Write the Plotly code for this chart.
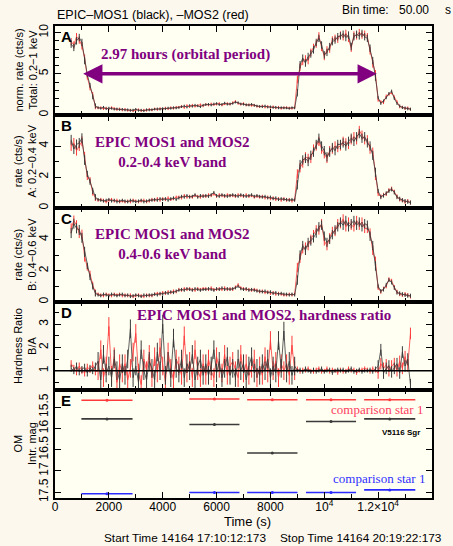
import plotly.graph_objects as go
from plotly.subplots import make_subplots

# ---------------- data ----------------
time_s = list(range(600, 13300, 100))  # 100 s bin centres

a_black = [8.6, 8.2, 9.0, 9.4, 8.8, 6.6, 4.9, 3.6, 2.2, 1.1,
           0.9, 0.8, 0.95, 0.75, 0.85, 0.8, 0.7, 0.75, 0.65, 0.7,
           0.6, 0.65, 0.55, 0.6, 0.7, 0.55, 0.6, 0.5, 0.65, 0.6,
           0.65, 0.7, 0.75, 0.7, 0.8, 0.75, 0.85, 0.8, 0.9, 0.85,
           0.9, 1.0, 1.1, 0.95, 1.15, 1.05, 1.2, 1.1, 1.0, 1.2,
           1.25, 1.3, 1.2, 1.35, 1.4, 1.25, 1.3, 1.45, 1.3, 1.35,
           1.4, 1.55, 1.5, 1.35, 1.3, 1.25, 1.2, 1.3, 1.15, 1.1,
           1.05, 1.0, 1.1, 0.95, 1.0, 0.9, 0.95, 0.85, 0.9, 0.85,
           0.85, 0.8, 0.9, 0.85, 2.7, 6.1, 6.9, 6.3, 7.1, 7.4,
           7.9, 8.8, 9.3, 8.5, 7.3, 7.6, 8.3, 8.9, 9.1, 9.5,
           9.6, 9.8, 9.4, 9.7, 8.3, 9.5, 9.8, 9.6, 9.9, 9.5,
           9.3, 8.1, 6.6, 4.6, 2.1, 1.4, 1.7, 2.1, 2.6, 2.9,
           2.0, 1.4, 1.1, 0.9, 0.85, 0.75, 0.7]
a_red = [8.9, 8.5, 9.5, 9.1, 8.4, 6.9, 4.6, 3.3, 2.5, 1.0,
         0.85, 0.9, 0.75, 0.85, 0.7, 0.9, 0.8, 0.65, 0.75, 0.6,
         0.7, 0.55, 0.6, 0.5, 0.6, 0.65, 0.5, 0.6, 0.55, 0.7,
         0.6, 0.75, 0.65, 0.8, 0.7, 0.85, 0.75, 0.9, 0.8, 0.95,
         0.95, 1.05, 0.9, 1.15, 1.0, 1.2, 1.05, 1.15, 1.25, 1.1,
         1.3, 1.2, 1.35, 1.25, 1.3, 1.4, 1.2, 1.35, 1.4, 1.3,
         1.5, 1.65, 1.4, 1.3, 1.4, 1.2, 1.25, 1.15, 1.2, 1.05,
         1.0, 1.1, 0.95, 1.05, 0.9, 1.0, 0.85, 0.95, 0.8, 0.9,
         0.9, 0.85, 0.8, 0.9, 4.3, 5.8, 6.5, 6.8, 6.6, 7.6,
         8.2, 8.6, 9.6, 8.2, 7.1, 7.9, 8.0, 9.1, 9.3, 9.2,
         9.7, 9.5, 9.9, 9.3, 8.1, 9.7, 9.6, 10.0, 9.7, 9.8,
         9.5, 7.8, 6.2, 5.0, 1.8, 1.6, 1.5, 2.3, 2.5, 2.7,
         2.2, 1.6, 1.0, 0.95, 0.8, 0.85, 0.7]

b_black = [4.4, 3.8, 4.1, 4.2, 4.5, 3.1, 2.2, 1.7, 1.1, 0.7,
           0.55, 0.5, 0.45, 0.5, 0.55, 0.45, 0.5, 0.4, 0.45, 0.5,
           0.45, 0.4, 0.5, 0.45, 0.4, 0.45, 0.5, 0.4, 0.45, 0.5,
           0.5, 0.55, 0.5, 0.6, 0.55, 0.6, 0.5, 0.6, 0.65, 0.55,
           0.65, 0.75, 0.7, 0.8, 0.7, 0.75, 0.85, 0.7, 0.8, 0.75,
           0.8, 0.75, 0.85, 1.0, 0.8, 0.75, 0.85, 0.8, 0.75, 0.8,
           0.85, 0.8, 0.75, 0.85, 0.8, 0.75, 0.8, 0.85, 0.75, 0.8,
           0.75, 0.7, 0.75, 0.65, 0.7, 0.6, 0.65, 0.55, 0.6, 0.55,
           0.55, 0.5, 0.55, 0.5, 1.5, 2.8, 3.1, 3.2, 3.0, 3.4,
           3.6, 4.1, 4.5, 4.0, 3.7, 3.3, 3.6, 3.9, 3.7, 4.1,
           4.1, 4.2, 4.0, 4.3, 4.5, 4.3, 4.6, 4.8, 4.5, 4.6,
           4.2, 4.0, 3.4, 2.3, 1.1, 0.7, 0.8, 0.95, 1.1, 1.2,
           1.0, 0.7, 0.6, 0.5, 0.45, 0.4, 0.35]
b_red = [4.0, 4.2, 3.7, 4.0, 4.3, 3.3, 2.0, 1.8, 1.0, 0.65,
         0.5, 0.55, 0.5, 0.4, 0.5, 0.55, 0.45, 0.5, 0.4, 0.45,
         0.4, 0.45, 0.4, 0.5, 0.45, 0.4, 0.45, 0.5, 0.4, 0.45,
         0.55, 0.5, 0.6, 0.5, 0.6, 0.55, 0.65, 0.55, 0.6, 0.7,
         0.7, 0.65, 0.8, 0.7, 0.75, 0.7, 0.8, 0.75, 0.7, 0.8,
         0.75, 0.85, 0.8, 0.9, 0.75, 0.85, 0.8, 0.75, 0.85, 0.8,
         0.8, 0.75, 0.85, 0.8, 0.75, 0.85, 0.75, 0.8, 0.7, 0.75,
         0.7, 0.75, 0.65, 0.7, 0.6, 0.65, 0.55, 0.6, 0.5, 0.6,
         0.5, 0.55, 0.45, 0.55, 2.2, 2.6, 2.9, 3.3, 3.2, 3.2,
         3.8, 4.0, 4.3, 3.8, 3.5, 3.2, 3.7, 3.8, 4.0, 3.9,
         4.0, 4.3, 4.2, 4.1, 4.4, 4.6, 4.4, 5.0, 4.7, 4.4,
         4.4, 3.8, 3.6, 2.1, 0.9, 0.75, 0.85, 0.9, 1.15, 1.25,
         1.05, 0.75, 0.55, 0.5, 0.4, 0.45, 0.35]

c_black = [4.4, 5.0, 4.7, 4.6, 4.1, 3.2, 2.3, 1.6, 1.0, 0.55,
           0.45, 0.4, 0.5, 0.45, 0.4, 0.5, 0.45, 0.4, 0.45, 0.5,
           0.4, 0.45, 0.35, 0.4, 0.45, 0.4, 0.35, 0.45, 0.4, 0.45,
           0.45, 0.5, 0.45, 0.55, 0.5, 0.6, 0.55, 0.65, 0.6, 0.7,
           0.75, 0.8, 0.75, 0.85, 0.8, 0.75, 0.85, 0.8, 0.75, 0.8,
           0.8, 0.85, 0.8, 0.75, 0.85, 0.8, 0.9, 0.8, 0.85, 0.8,
           0.85, 0.9, 1.0, 0.85, 0.8, 0.85, 0.75, 0.8, 0.75, 0.7,
           0.7, 0.65, 0.7, 0.6, 0.65, 0.55, 0.6, 0.5, 0.55, 0.5,
           0.5, 0.45, 0.5, 0.45, 1.4, 3.0, 3.6, 3.3, 3.8, 3.9,
           4.1, 4.4, 4.8, 4.9, 4.2, 3.8, 4.0, 4.3, 4.6, 4.8,
           5.1, 4.9, 5.2, 4.8, 5.0, 5.2, 4.9, 5.1, 4.8, 5.0,
           4.9, 4.2, 3.6, 2.3, 1.0, 0.7, 0.8, 1.1, 1.4, 1.25,
           0.9, 0.6, 0.55, 0.5, 0.45, 0.4, 0.4]
c_red = [4.7, 5.2, 4.9, 4.4, 4.3, 2.9, 2.2, 1.8, 1.1, 0.6,
         0.5, 0.45, 0.4, 0.5, 0.45, 0.4, 0.5, 0.45, 0.5, 0.4,
         0.45, 0.4, 0.45, 0.35, 0.4, 0.45, 0.4, 0.35, 0.45, 0.4,
         0.4, 0.5, 0.55, 0.5, 0.6, 0.55, 0.65, 0.6, 0.7, 0.65,
         0.8, 0.75, 0.85, 0.8, 0.85, 0.8, 0.75, 0.85, 0.8, 0.85,
         0.85, 0.8, 0.9, 0.8, 0.8, 0.85, 0.8, 0.9, 0.8, 0.85,
         0.8, 0.95, 1.1, 0.9, 0.85, 0.8, 0.8, 0.75, 0.8, 0.75,
         0.65, 0.7, 0.6, 0.65, 0.55, 0.6, 0.5, 0.55, 0.5, 0.45,
         0.45, 0.5, 0.45, 0.5, 2.2, 2.8, 3.4, 3.5, 3.6, 4.0,
         4.3, 4.6, 4.6, 5.0, 3.9, 3.6, 4.1, 4.5, 4.5, 5.0,
         5.0, 5.3, 4.8, 5.1, 4.9, 4.8, 5.2, 4.9, 5.1, 4.7,
         4.7, 4.4, 3.3, 2.6, 0.9, 0.65, 0.85, 1.0, 1.45, 1.35,
         0.95, 0.65, 0.5, 0.45, 0.5, 0.45, 0.35]

d_black = [1.1, 1.0, 1.2, 0.95, 1.05, 1.15, 0.9, 1.1, 1.0, 1.2,
           1.4, 0.6, 1.7, 0.9, 1.2, 0.7, 1.5, 1.0, 0.6, 1.3,
           0.8, 1.5, 2.8, 0.7, 1.2, 0.5, 1.9, 1.0, 0.6, 1.4,
           1.1, 0.6, 1.8, 1.0, 3.0, 0.8, 1.4, 0.7, 2.4, 1.1,
           0.9, 1.5, 0.7, 1.3, 1.0, 1.7, 0.6, 1.2, 1.5, 0.8,
           1.3, 0.8, 1.2, 1.9, 0.9, 1.4, 0.7, 1.1, 1.6, 0.8,
           1.1, 0.7, 1.5, 1.0, 1.3, 0.6, 1.2, 1.6, 0.9, 1.1,
           0.8, 1.3, 1.0, 1.5, 0.7, 1.2, 0.9, 2.3, 1.1, 2.7,
           0.9, 1.4, 0.8, 1.2, 1.0, 1.05, 0.95, 1.1, 1.0, 0.95,
           1.05, 0.95, 1.0, 1.1, 0.95, 1.0, 1.05, 0.9, 1.0, 1.05,
           1.0, 1.05, 0.95, 1.0, 1.1, 0.95, 1.0, 1.05, 0.95, 1.0,
           1.0, 1.05, 0.95, 1.1, 1.2, 1.9, 0.9, 1.1, 1.2, 0.95,
           1.1, 1.3, 0.9, 1.8, 1.2, 1.5, 0.4]
d_red = [1.3, 1.1, 0.95, 1.2, 1.0, 0.9, 1.15, 1.05, 1.25, 0.95,
         1.0, 1.9, 0.7, 1.2, 2.9, 0.8, 1.6, 0.5, 1.3, 0.9,
         1.3, 0.6, 1.1, 1.8, 2.6, 0.9, 0.4, 1.5, 1.0, 1.7,
         0.7, 1.6, 0.9, 2.0, 1.2, 0.5, 1.8, 1.1, 0.6, 1.5,
         1.2, 0.8, 2.5, 0.9, 1.4, 0.7, 1.9, 1.0, 0.7, 1.3,
         0.8, 1.5, 1.0, 0.7, 1.6, 1.1, 0.9, 1.7, 0.8, 1.2,
         1.4, 1.0, 0.7, 1.7, 0.9, 1.3, 0.8, 1.1, 1.5, 0.7,
         1.2, 0.8, 1.6, 0.9, 2.3, 1.0, 1.4, 0.7, 1.3, 1.0,
         1.3, 0.8, 2.1, 1.0, 1.1, 0.95, 1.05, 1.0, 1.1, 1.0,
         0.95, 1.05, 1.1, 0.95, 1.0, 1.1, 0.95, 1.05, 1.0, 0.9,
         1.05, 0.95, 1.0, 1.1, 1.0, 1.05, 0.9, 1.0, 1.05, 1.1,
         1.05, 0.95, 1.1, 1.0, 0.9, 1.3, 1.1, 1.25, 1.0, 1.2,
         1.3, 1.0, 1.4, 1.1, 1.6, 1.2, 2.6]

# 1-sigma error bars read per segment (bright start, fall, faint, bright, tail)
err_a = [0.45] * 6 + [0.3] * 4 + [0.15] * 74 + [0.45] * 30 + [0.18] * 13
err_b = [0.32] * 6 + [0.2] * 4 + [0.1] * 74 + [0.3] * 30 + [0.13] * 13
err_c = [0.32] * 6 + [0.2] * 4 + [0.1] * 74 + [0.3] * 30 + [0.13] * 13
err_d = [0.15] * 10 + [0.4] * 74 + [0.08] * 30 + [0.25] * 13

# OM photometry (panel E)
om_time = [1930, 5920, 8070, 10250, 12430]
om_half = [950, 930, 935, 930, 950]
mag_comp_red = [15.34, 15.31, 15.33, 15.33, 15.33]
mag_v5116 = [15.78, 15.91, 16.58, 15.84, 15.78]
mag_comp_blue = [17.54, 17.51, 17.51, 17.51, 17.45]

x_tickvals = [0, 2000, 4000, 6000, 8000, 10000, 12000, 14000]
x_ticktext = ["0", "2000", "4000", "6000", "8000", "10<sup>4</sup>",
              "1.2×10<sup>4</sup>", "1.4×10<sup>4</sup>"]

# ---------------- figure ----------------
BLACK = "#3a3a3a"
RED = "#ff3a3a"
PURPLE = "#800080"
SERIF = "Liberation Serif, Times New Roman, serif"
SANS = "Liberation Sans, Arial, sans-serif"

fig = make_subplots(rows=5, cols=1, shared_xaxes=True, vertical_spacing=0)


def add_lc(row, yb, yr, err):
    for y, col in ((yr, RED), (yb, BLACK)):
        fig.add_trace(go.Scatter(
            x=time_s, y=y, mode="lines",
            line=dict(color=col, width=0.8),
            error_y=dict(type="data", array=err, visible=True,
                         color=col, thickness=1.0, width=0),
            showlegend=False, hoverinfo="skip"), row=row, col=1)


add_lc(1, a_black, a_red, err_a)
add_lc(2, b_black, b_red, err_b)
add_lc(3, c_black, c_red, err_c)
add_lc(4, d_black, d_red, err_d)

fig.add_hline(y=1, line=dict(color="black", width=1.5), row=4, col=1)

for mags, col in ((mag_comp_red, "#ff3a3a"), (mag_v5116, BLACK), (mag_comp_blue, "#2a2aff")):
    fig.add_trace(go.Scatter(
        x=om_time, y=mags, mode="markers",
        marker=dict(color=col, size=3),
        error_x=dict(type="data", array=om_half, visible=True,
                     color=col, thickness=1.6, width=0),
        error_y=dict(type="data", array=[0.02] * 5, visible=True,
                     color=col, thickness=1, width=0),
        showlegend=False, hoverinfo="skip"), row=5, col=1)

axis_common = dict(showline=True, linecolor="black", linewidth=2, mirror="allticks",
                   ticks="inside", ticklen=6, tickwidth=1.2, tickcolor="black",
                   showgrid=False, zeroline=False, automargin=False,
                   tickfont=dict(family=SANS, size=12, color="black"))

for i in range(1, 6):
    fig.update_xaxes(range=[0, 14000], tickvals=x_tickvals, ticktext=x_ticktext,
                     showticklabels=(i == 5), ticklabelstandoff=-3,
                     minor=dict(ticks="inside", dtick=1000, ticklen=4, tickcolor="black"),
                     **axis_common, row=i, col=1)

fig.update_yaxes(range=[0, 10.8], tickvals=[0, 5, 10], tickangle=-90,
                 minor=dict(ticks="inside", dtick=1, ticklen=4, tickcolor="black"),
                 **axis_common, row=1, col=1)
fig.update_yaxes(range=[0, 6], tickvals=[0, 2, 4], tickangle=-90,
                 minor=dict(ticks="inside", dtick=1, ticklen=4, tickcolor="black"),
                 **axis_common, row=2, col=1)
fig.update_yaxes(range=[0, 6], tickvals=[0, 2, 4], tickangle=-90,
                 minor=dict(ticks="inside", dtick=1, ticklen=4, tickcolor="black"),
                 **axis_common, row=3, col=1)
fig.update_yaxes(range=[0.17, 3.95], tickvals=[1, 2, 3], tickangle=-90,
                 minor=dict(ticks="inside", dtick=0.5, ticklen=4, tickcolor="black"),
                 **axis_common, row=4, col=1)
fig.update_yaxes(range=[17.64, 15.1], tickvals=[15.5, 16, 16.5, 17, 17.5], tickangle=-90,
                 **axis_common, row=5, col=1)

H_PLOT = 472.0
W_PLOT = 377.0


def px_x(px):
    return (px - 55) / W_PLOT


def px_y(py):
    return (498 - py) / H_PLOT


def dom(top_px, bot_px):
    return [px_y(bot_px), px_y(top_px)]


panel_px = [(26, 115), (115, 208), (208, 302), (302, 390), (390, 498)]

fig.update_layout(
    width=453, height=546,
    margin=dict(l=55, r=21, t=26, b=48),
    paper_bgcolor="#fcf8ee", plot_bgcolor="#fffff2",
    yaxis=dict(domain=dom(*panel_px[0])),
    yaxis2=dict(domain=dom(*panel_px[1])),
    yaxis3=dict(domain=dom(*panel_px[2])),
    yaxis4=dict(domain=dom(*panel_px[3])),
    yaxis5=dict(domain=[0, px_y(390)]),
)

ann = []
# panel letters
for letter, yref, yv in (("A", "y", 10.8), ("B", "y2", 6), ("C", "y3", 6),
                         ("D", "y4", 3.95), ("E", "y5", 15.1)):
    ann.append(dict(text="<b>%s</b>" % letter, x=150, y=yv, xref="x", yref=yref,
                    xanchor="left", yanchor="top", showarrow=False,
                    font=dict(family=SANS, size=15, color="black")))

# y-axis titles (two rotated lines each)
y_titles = ["norm. rate (cts/s)<br>Total: 0.2−1 keV",
            "rate (cts/s)<br>A: 0.2−0.4 keV",
            "rate (cts/s)<br>B: 0.4−0.6 keV",
            "Hardness Ratio<br>B/A",
            "OM<br>Intr. mag"]
for title, (top, bot) in zip(y_titles, panel_px):
    ann.append(dict(text=title, textangle=-90, x=px_x(25), y=px_y((top + bot) / 2),
                    xref="paper", yref="paper", xanchor="center", yanchor="middle",
                    showarrow=False, font=dict(family=SANS, size=11, color="black")))

# orbital period arrow
ann.append(dict(x=11950, y=5, ax=990, ay=5, xref="x", yref="y", axref="x", ayref="y",
                text="", showarrow=True, arrowhead=2, arrowside="end+start",
                arrowsize=1.1, arrowwidth=3.5, arrowcolor=PURPLE))
ann.append(dict(text="<b>2.97 hours (orbital period)</b>", x=4845, y=7.3, xref="x", yref="y",
                showarrow=False, font=dict(family=SERIF, size=15, color=PURPLE)))
ann.append(dict(text="<b>EPIC MOS1 and MOS2<br>0.2-0.4 keV band</b>", x=4363, y=3.6,
                xref="x", yref="y2", showarrow=False,
                font=dict(family=SERIF, size=15, color=PURPLE)))
ann.append(dict(text="<b>EPIC MOS1 and MOS2<br>0.4-0.6 keV band</b>", x=4363, y=3.7,
                xref="x", yref="y3", showarrow=False,
                font=dict(family=SERIF, size=15, color=PURPLE)))
ann.append(dict(text="<b>EPIC MOS1 and MOS2, hardness ratio</b>", x=7760, y=3.38,
                xref="x", yref="y4", showarrow=False,
                font=dict(family=SERIF, size=15, color=PURPLE)))
ann.append(dict(text="comparison star 1", x=11960, y=15.55, xref="x", yref="y5",
                showarrow=False, font=dict(family=SERIF, size=13, color="#ff4060")))
ann.append(dict(text="<b>V5116 Sgr</b>", x=12850, y=16.1, xref="x", yref="y5",
                showarrow=False, font=dict(family=SANS, size=8, color="black")))
ann.append(dict(text="comparison star 1", x=12030, y=17.19, xref="x", yref="y5",
                showarrow=False, font=dict(family=SERIF, size=13, color="#3030ff")))

# header / footer texts
hdr = dict(family=SANS, size=12, color="black")
ann.append(dict(text="EPIC–MOS1 (black), –MOS2 (red)", x=0, y=px_y(15),
                xref="paper", yref="paper", xanchor="left", yanchor="middle",
                showarrow=False, font=dict(family=SANS, size=12.5, color="black")))
ann.append(dict(text="Bin time:", x=px_x(340), y=px_y(10),
                xref="paper", yref="paper", xanchor="left", yanchor="middle",
                showarrow=False, font=hdr))
ann.append(dict(text="50.00", x=px_x(397), y=px_y(10),
                xref="paper", yref="paper", xanchor="left", yanchor="middle",
                showarrow=False, font=hdr))
ann.append(dict(text="s", x=px_x(443), y=px_y(10),
                xref="paper", yref="paper", xanchor="left", yanchor="middle",
                showarrow=False, font=hdr))
ann.append(dict(text="Time (s)", x=px_x(247), y=px_y(521),
                xref="paper", yref="paper", xanchor="center", yanchor="middle",
                showarrow=False, font=dict(family=SANS, size=13, color="black")))
ann.append(dict(text="Start Time 14164 17:10:12:173", x=px_x(102), y=px_y(538),
                xref="paper", yref="paper", xanchor="left", yanchor="middle",
                showarrow=False, font=dict(family=SANS, size=11.8, color="black")))
ann.append(dict(text="Stop Time 14164 20:19:22:173", x=px_x(278), y=px_y(538),
                xref="paper", yref="paper", xanchor="left", yanchor="middle",
                showarrow=False, font=dict(family=SANS, size=11.8, color="black")))

fig.update_layout(annotations=ann)

fig.write_html("out.html", config={"displayModeBar": False},
               post_script="document.body.style.margin='0';document.body.style.overflow='hidden';")
